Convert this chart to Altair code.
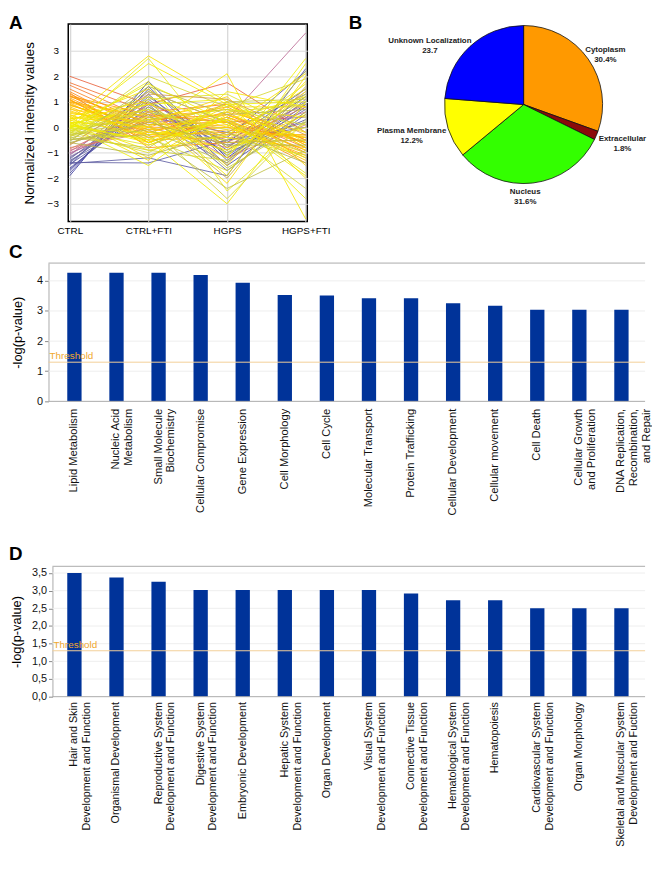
import altair as alt
import pandas as pd

FONT = "Liberation Sans"

# ---------------- Panel A: parallel-coordinates of normalized intensities ----------------
conditions = ["CTRL", "CTRL+FTI", "HGPS", "HGPS+FTI"]

ctrl = [-1.9, -1.8, -1.7, -1.65, -1.6, -1.5, -1.45, -1.4, -1.35, -1.3, -1.25, -1.2, -1.15, -1.1, -1.05,
        -1.0, -0.95, -0.9, -0.85, -0.8, -1.38, -1.42,
        2.0, 1.75, 1.65, 1.5, 1.4, 1.3, 1.25, 1.2, 1.15, 1.1, 1.05, 1.0, 0.95, 0.9, 0.85, 0.8, 0.75,
        0.7, 0.65, 0.6, 1.35, 1.22, 1.08, 0.98, 0.88,
        0.55, 0.5, 0.45, 0.4, 0.35, 0.3, 0.28, 0.25, 0.2, 0.18, 0.15, 0.1, 0.08, 0.05, 0.02, 0.0,
        -0.02, -0.05, -0.08, -0.1, -0.12, -0.15, -0.18, -0.2, -0.22, -0.25, -0.3, -0.35, -0.4, -0.45,
        -0.5, -0.55, -0.6, -0.65, -0.7, 0.42, 0.12, -0.05, -0.28, -0.48, 0.32, 0.22, -0.15, -0.38,
        0.05, -0.6, 0.0, -0.3]
ctrl_fti = [1.8, 1.5, 1.3, 1.0, 0.8, 1.6, 0.6, 1.2, 0.9, 0.4, 1.1, 0.7, 0.3, 1.4, 0.5,
            0.2, 0.9, 0.0, 0.6, -0.2, -1.4, -1.2,
            0.9, 0.6, 0.3, 0.1, -0.2, 0.0, -0.4, 0.2, -0.3, -0.6, -0.1, 0.4, -0.5, -0.2, 0.1, -0.4, -0.7,
            0.3, -0.3, -0.1, -0.8, 0.5, -0.6, 0.0, -0.2,
            0.2, -0.6, 1.0, -1.2, 0.5, 2.8, -0.3, 1.5, 0.0, -0.9, 0.7, 2.5, -0.5, 1.2, -1.5, 0.3,
            0.9, -0.2, 1.8, -0.7, 0.4, 1.1, -1.0, 0.6, -0.4, 2.0, 0.1, 1.4, -0.8, 0.8, -0.1,
            1.6, -1.1, 0.5, 1.3, 0.0, -0.6, 2.7, 0.3, -0.3, 0.9, -1.3, 0.7, 1.0, -0.5,
            0.2, 1.7, -0.9]
hgps = [-1.2, -0.8, -1.5, -0.6, -1.0, -1.3, -0.4, -0.9, -1.7, -0.2, -1.1, -0.7, -1.4, 0.2, -0.5,
        0.3, -0.3, -0.8, -1.2, -0.6, -0.5, -1.9,
        1.75, 0.9, 0.5, 0.2, 0.6, 0.0, 0.3, 0.8, -0.2, 0.4, 0.1, 0.7, -0.4, 0.5, 0.2, -0.1, 0.3,
        1.0, 0.0, 0.6, -0.6, 0.2, 0.4, 0.9, -0.3,
        1.2, 0.8, -1.5, 0.5, -2.2, 1.0, 0.3, -0.8, 2.1, -0.3, -1.9, 0.9, -3.0, 0.1, 0.7, -1.2,
        1.1, -0.5, -2.5, 0.4, -1.0, 1.3, 0.6, -0.1, -1.7, 0.8, -2.8, 0.2, 1.0, -0.6, -1.4,
        0.5, -0.2, -2.0, 1.1, -0.9, 0.3, -1.1, 0.7, -2.4, 0.0, 1.4, -0.4, -1.6,
        0.9, -0.7, 0.2, -1.3]
hgps_fti = [0.9, 1.2, 0.6, 1.5, 0.3, 0.8, 2.2, 1.0, 0.5, 1.3, 0.7, 0.2, 1.1, 0.4, 0.9,
            3.7, 0.6, 1.4, 0.1, 0.8, 0.0, 2.3,
            -0.2, -0.5, -0.8, -0.6, -1.0, -0.4, -1.2, -0.7, -0.3, -0.9, -1.1, -0.5, -0.8, -0.6, -1.3,
            -0.4, -0.9, -0.7, -1.0, -0.2, -0.5, -1.4, -0.6, -0.8, -0.3,
            -1.5, 0.8, 1.8, -0.4, 2.0, -2.0, 1.2, 0.0, -3.6, 1.5, 2.5, -0.8, 1.0, -1.2, 0.4, 2.7,
            -0.6, 1.7, 0.2, -1.8, 1.3, -0.2, 0.9, -2.4, 0.6, 1.9, 0.3, -1.0, 1.1, -0.5, 2.2,
            0.7, -1.4, 1.6, -0.3, 0.5, -1.9, 1.4, 0.1, -0.9, 2.1, 0.8, -1.1, 0.2,
            1.0, -0.7, -2.8, 1.2]

n_lines = min(len(ctrl), len(ctrl_fti), len(hgps), len(hgps_fti))
rowsA = []
for i in range(n_lines):
    for cond, v in zip(conditions, (ctrl[i], ctrl_fti[i], hgps[i], hgps_fti[i])):
        rowsA.append({"gene": i, "condition": cond, "value": v, "ctrl": ctrl[i]})
dfA = pd.DataFrame(rowsA)

line_color = alt.Scale(
    domain=[-1.9, -1.2, -0.6, 0.0, 0.6, 1.2, 2.0],
    range=["#3a3aa0", "#6c6ca2", "#b4b44a", "#eef000", "#ffd400", "#ff9a00", "#e8603a"],
)

linesA = alt.Chart(dfA).mark_line(strokeWidth=1.0, opacity=0.85).encode(
    x=alt.X("condition:N", sort=conditions,
            scale=alt.Scale(type="point", padding=0.02),
            axis=alt.Axis(title=None, labelAngle=0, labelFontSize=10, labelPadding=4,
                          labelColor="#000", grid=True, gridColor="#cccccc", domain=False,
                          ticks=False)),
    y=alt.Y("value:Q", scale=alt.Scale(domain=[-3.7, 4.05], nice=False, zero=False),
            axis=alt.Axis(values=[-3, -2, -1, 0, 1, 2, 3], title="Normalized intensity values",
                          titleFontSize=13.5, titleFontWeight="normal", titlePadding=11,
                          titleColor="#000", labelFontSize=10, labelPadding=10, labelColor="#000",
                          grid=True, gridColor="#d8d8d8", domain=False, ticks=False)),
    color=alt.Color("ctrl:Q", scale=line_color, legend=None),
    detail="gene:N",
)


def letter(ch, lx, ly):
    return alt.Chart(pd.DataFrame({"t": [ch]})).mark_text(
        fontSize=19, fontWeight="bold", align="left", baseline="alphabetic", color="#000"
    ).encode(text="t:N", x=alt.value(lx), y=alt.value(ly))


# ---------------- Panel B: pie of subcellular localization (drawn beside panel A) ----------------
locations = ["Cytoplasm", "Extracellular", "Nucleus", "Plasma Membrane", "Unknown  Localization"]
loc_share = [30.4, 1.8, 31.6, 12.2, 23.7]
loc_share_text = ["30.4%", "1.8%", "31.6%", "12.2%", "23.7"]
loc_colors = ["#ff9900", "#8b0a0a", "#33ff00", "#ffff00", "#0000ff"]

dfB = pd.DataFrame({
    "loc": locations,
    "share": loc_share,
    "idx": list(range(len(locations))),
    "lab": [f"{a}\n{b}" for a, b in zip(locations, loc_share_text)],
})

CX, CY = 461, 81.5   # pie centre, relative to panel A's plot area
baseB = alt.Chart(dfB).encode(
    theta=alt.Theta("share:Q", stack=True),
    order=alt.Order("idx:Q"),
    detail="loc:N",
)
pie = baseB.mark_arc(radius=80, stroke="#111", strokeWidth=0.8).encode(
    color=alt.Color("loc:N", scale=alt.Scale(domain=locations, range=loc_colors), legend=None),
    x=alt.value(CX), y=alt.value(CY),
)
label_nudge = {
    "Cytoplasm": (1, 2),
    "Extracellular": (8, -4),
    "Nucleus": (-10, -11),
    "Plasma Membrane": (-18, -3),
    "Unknown  Localization": (-27, 9),
}
pie_labels = []
for name, (ddx, ddy) in label_nudge.items():
    pie_labels.append(
        baseB.transform_calculate(t=f"datum.loc == '{name}' ? datum.lab : ''").mark_text(
            radius=100, dx=ddx, dy=ddy, fontSize=8, fontWeight="bold", lineBreak="\n",
            lineHeight=10, align="center", baseline="middle", color="#222"
        ).encode(text="t:N", x=alt.value(CX), y=alt.value(CY))
    )

chartAB = alt.layer(linesA, pie, *pie_labels, letter("A", -60, 5), letter("B", 284, 5)).resolve_scale(
    color="independent"
).properties(width=242, height=200, view=alt.ViewBackground(stroke="#000", strokeWidth=1.5))

# ---------------- Panels C and D: IPA bar charts ----------------
threshold = [1.3]
threshold_label = ["Threshold"]

functions_c = ["Lipid Metabolism", "Nucleic Acid\nMetabolism", "Small Molecule\nBiochemistry",
               "Cellular Compromise", "Gene Expression", "Cell Morphology", "Cell Cycle",
               "Molecular Transport", "Protein Trafficking", "Cellular Development",
               "Cellular movement", "Cell Death", "Cellular Growth\nand Proliferation",
               "DNA Replication,\nRecombination,\nand Repair"]
logp_c = [4.27, 4.27, 4.27, 4.19, 3.94, 3.53, 3.51, 3.42, 3.42, 3.26, 3.17, 3.04, 3.04, 3.04]
ticks_c = [0, 1, 2, 3, 4]

functions_d = ["Hair and Skin\nDevelopment and Function", "Organismal Development",
               "Reproductive System\nDevelopment and  Function",
               "Digestive System\nDevelopment and Function", "Embryonic Development",
               "Hepatic System\nDevelopment and Function", "Organ Development",
               "Visual System\nDevelopment and Function",
               "Connective Tissue\nDevelopment and Function",
               "Hematological System\nDevelopment and Function", "Hematopoiesis",
               "Cardiovascular System\nDevelopment and Function", "Organ Morphology",
               "Skeletal and Muscular System\nDevelopment and Fuction"]
logp_d = [3.5, 3.37, 3.25, 3.02, 3.02, 3.02, 3.02, 3.02, 2.92, 2.73, 2.73, 2.5, 2.5, 2.5]
ticks_d = [0, 0.5, 1, 1.5, 2, 2.5, 3, 3.5]

W_BAR = 584


def bar_panel(ch, cats, vals, ticks, H, ymax, label_expr, off, lx, ly, title_pad,
              label_pad, label_size, spacer=None):
    df = pd.DataFrame({"cat": cats, "val": vals})
    yenc = alt.Y("val:Q", scale=alt.Scale(domain=[0, ymax], nice=False),
                 axis=alt.Axis(values=ticks, labelExpr=label_expr, title="-log(p-value)",
                               titleFontSize=13, titleFontWeight="normal", titleColor="#000",
                               titlePadding=title_pad, labelFontSize=11, labelColor="#111",
                               grid=False, domainColor="#aaaaaa", offset=off,
                               tickColor="#888888", tickSize=4, labelPadding=2))
    bars = alt.Chart(df).mark_bar(color="#003399").encode(
        x=alt.X("cat:N", sort=cats,
                scale=alt.Scale(paddingInner=0.66, paddingOuter=0, range=[-1, 567.3]),
                axis=alt.Axis(title=None, labelAngle=-90,
                              labelExpr="split(datum.label, '\\n')",
                              labelFontSize=label_size, labelLineHeight=13,
                              labelPadding=label_pad, labelColor="#111", labelLimit=0,
                              ticks=False, domain=False, grid=False)),
        y=yenc,
    )
    grid = alt.Chart(pd.DataFrame({"val": ticks[1:]})).mark_rule(color="#eeeeee").encode(
        y=yenc, x=alt.value(-off), x2=alt.value(W_BAR))
    dft = pd.DataFrame({"val": threshold, "lab": threshold_label})
    rule = alt.Chart(dft).mark_rule(color="#f3cf98", strokeWidth=1).encode(
        y=yenc, x=alt.value(-off), x2=alt.value(W_BAR))
    ttext = alt.Chart(dft).mark_text(align="left", baseline="bottom", dx=1, dy=-1,
                                     fontSize=10, color="#f0a830").encode(
        y=yenc, x=alt.value(-off), text="lab:N")
    frame = alt.Chart(pd.DataFrame({"edge": [0, H]})).mark_rule(color="#aaaaaa").encode(
        y=alt.Y("edge:Q", scale=None), x=alt.value(-off), x2=alt.value(W_BAR))
    layers = [grid, bars, rule, ttext, frame, letter(ch, lx, ly)]
    if spacer is not None:
        layers.append(alt.Chart(pd.DataFrame({"s": [0]})).mark_rule(opacity=0).encode(
            x=alt.value(0), x2=alt.value(1), y=alt.value(spacer), y2=alt.value(spacer + 1)))
    return alt.layer(*layers).properties(width=W_BAR, height=H)


chartC = bar_panel("C", functions_c, logp_c, ticks_c, 140, 4.59, "datum.label",
                   20, -60, -5, 12, 7, 11.3)
chartD = bar_panel("D", functions_d, logp_d, ticks_d, 132, 3.69,
                   "replace(format(datum.value, '.1f'), '.', ',')",
                   16, -60, -6, 8, 5, 10.9, spacer=-45)

chart = alt.vconcat(chartAB, chartC, chartD, spacing=7).properties(
    padding=0, background="white"
).configure(font=FONT).configure_view(stroke=None)

chart.save("out.html", embed_options={"renderer": "svg", "actions": False})
